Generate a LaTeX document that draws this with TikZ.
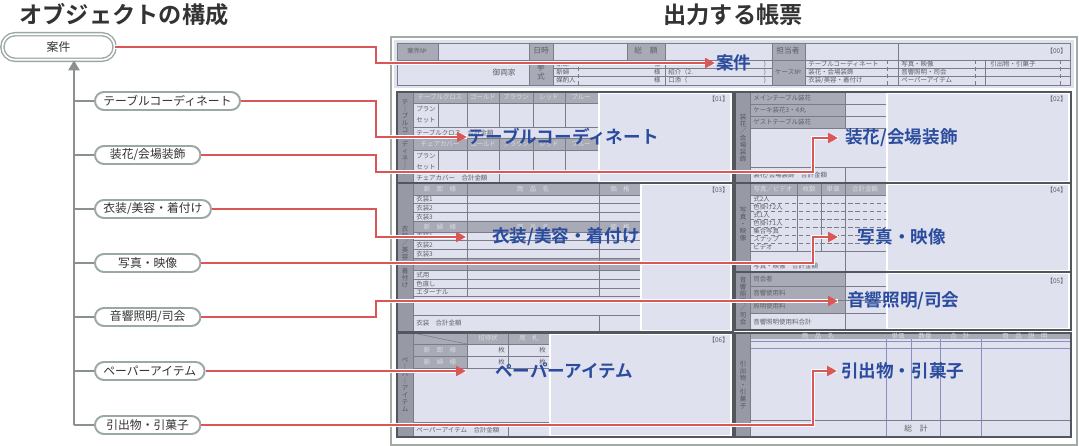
\documentclass[tikz,border=0pt]{standalone}
\usepackage{fontspec}
\setmainfont{Noto Sans CJK JP}[BoldFont={Noto Sans CJK JP Bold}]
\usetikzlibrary{positioning}
\usetikzlibrary{arrows.meta}

\definecolor{itemline}{HTML}{9BA8A6}
\definecolor{treegray}{HTML}{8C908F}
\definecolor{linkred}{HTML}{DA5757}
\definecolor{lblblue}{HTML}{2B4C9E}
\definecolor{textdark}{HTML}{333333}
\definecolor{panelbg}{HTML}{DFE2EE}
\definecolor{cellgray}{HTML}{A8AAB5}
\definecolor{colgray}{HTML}{979AA5}
\definecolor{darkline}{HTML}{54565E}
\definecolor{ruleline}{HTML}{7A7D88}
\definecolor{formtext}{HTML}{5E6069}
\definecolor{headtext}{HTML}{DADCE4}
\definecolor{frameline}{HTML}{A3ABA9}
\definecolor{blueline}{HTML}{8A8EC4}

\tikzset{
  title/.style={font=\bfseries\fontsize{16.5}{18}\selectfont, text=textdark},
  item/.style={draw=itemline, line width=1.4pt, fill=white, rounded corners=6.4pt,
    minimum height=12.8pt, minimum width=75pt, inner xsep=6pt, inner ysep=0pt,
    font=\fontsize{8.4}{9}\selectfont, text=textdark},
  root/.style={item, double=white, double distance=1.2pt, line width=1pt,
    minimum height=18.2pt, minimum width=79.8pt, rounded corners=9pt},
  tree/.style={draw=treegray, line width=1.4pt},
  link/.style={draw=linkred, line width=1.5pt, -{Triangle[length=7pt,width=7pt]},
    preaction={draw=white, line width=3.4pt, -}},
  lbl/.style={inner sep=0pt, font=\bfseries\fontsize{12.5}{13}\selectfont, text=lblblue},
  rule/.style={draw=ruleline, line width=0.4pt},
  sect/.style={draw=darkline, line width=1pt},
  blank/.style={draw=white, line width=0.9pt},
  ft/.style={inner sep=0pt, font=\fontsize{4.6}{5}\selectfont, text=formtext},
  fl/.style={ft, anchor=west},
  fh/.style={ft, text=headtext},
  vl/.style={ft, align=center, text=darkline}
}

\begin{document}
\begin{tikzpicture}[x=0.025cm, y=-0.025cm]
  \useasboundingbox (0,0) rectangle (1079,446);

  % titles
  \node[title] (ttl1) at (124,15) {オブジェクトの構成};
  \node[title] (ttl2) at (733,15) {出力する帳票};

  % --- form ---
  \draw[frameline, fill=white, line width=0.8pt] (391,37) rectangle (1077,445);

  % header block
  \fill[panelbg] (394,40) rectangle (1074,88);
  \fill[cellgray] (397,43) rectangle (438,60) (529,43) rectangle (553,85)
    (627,43) rectangle (665,60) (772,43) rectangle (805,85);
  \draw[rule] (397,43) rectangle (1070,85);
  \draw[rule] (397,60) -- (1070,60) (553,68) -- (772,68) (553,76) -- (772,76)
    (805,68) -- (1070,68) (805,76) -- (1070,76);
  \draw[rule] (438,43) -- (438,60) (627,43) -- (627,60) (985,60) -- (985,85);
  \foreach \x in {529,553,665,772,805,898}
    \draw[rule] (\x,43) -- (\x,85);
  \foreach \x in {578,887,975,1060}
    \draw[rule, densely dashed] (\x,60) -- (\x,85);
  \node[ft] at (417,51) {案件№};
  \node[ft, font=\fontsize{5.5}{6}\selectfont] at (541,51) {日時};
  \node[ft, font=\fontsize{5.5}{6}\selectfont] at (646,51) {総　額};
  \node[ft, font=\fontsize{5.5}{6}\selectfont] at (788,51) {担当者};
  \node[ft, anchor=east] at (1067,51) {【00】};
  \node[ft, font=\fontsize{5.5}{6}\selectfont, anchor=east] at (516,73) {御両家};
  \node[ft, align=center, font=\fontsize{5.5}{6.2}\selectfont] at (541,72) {挙\\式};
  \node[ft] at (788,72) {ケース№};
  \foreach \t [count=\i] in {新郎,新婦,媒酌人} {
    \node[fl] at (556,56+8*\i) {\t};
    \node[ft] at (657,56+8*\i) {様};
    \node[ft] at (765,56+8*\i) {)};
  }
  \node[fl] at (668,72) {紹介（2.};
  \node[fl] at (668,80) {口添（};
  \node[fl] at (808,64) {テーブルコーディネート};
  \node[fl] at (808,72) {装花・会場装飾};
  \node[fl] at (808,80) {衣装/美容・着付け};
  \node[fl] at (901,64) {写真・映像};
  \node[fl] at (901,72) {音響照明・司会};
  \node[fl] at (901,80) {ペーパーアイテム};
  \node[fl] at (990,64) {引出物・引菓子};

  % [01] table coordinate
  \fill[panelbg] (397,92) rectangle (733,183);
  \fill[colgray] (397,92) rectangle (413,183);
  \fill[cellgray] (413,92) rectangle (598,103) (413,138) rectangle (598,150);
  \draw[rule] (413,103) -- (598,103) (413,127) -- (598,127) (413,138) -- (598,138)
    (413,150) -- (598,150) (413,172) -- (598,172);
  \foreach \x in {467,499,533,565}
    \draw[rule] (\x,92) -- (\x,127) (\x,138) -- (\x,172);
  \draw[rule] (413,92) -- (413,183) (438,103) -- (438,127) (438,150) -- (438,172)
    (598,92) -- (598,183) (499,172) -- (499,183);
  \draw[blank] (599,93) rectangle (731,182);
  \draw[sect] (397,92) rectangle (733,183);
  \node[vl] at (405,137) {テ\\｜\\ブ\\ル\\コ\\｜\\デ\\ィ\\ネ\\｜\\ト};
  \foreach \y/\t in {97/テーブルクロス,144/チェアカバー} {
    \node[fh] at (440,\y) {\t};
    \node[fh] at (483,\y) {ゴールド};
    \node[fh] at (516,\y) {ブラウン};
    \node[fh] at (549,\y) {レッド};
    \node[fh] at (581,\y) {ブルー};
  }
  \foreach \y in {103,150} {
    \node[fl] at (416,\y+6) {プラン};
    \node[fl] at (416,\y+17) {セット};
  }
  \node[fl] at (416,133) {テーブルクロス　合計金額};
  \node[fl] at (416,178) {チェアカバー　合計金額};
  \node[ft, anchor=east] at (729,99) {【01】};

  % [02] flowers
  \fill[panelbg] (735,92) rectangle (1071,183);
  \fill[colgray] (735,92) rectangle (750,183);
  \fill[cellgray] (750,92) rectangle (845,128);
  \draw[rule] (750,104) -- (886,104) (750,116) -- (886,116) (750,128) -- (886,128)
    (750,167) -- (886,167);
  \draw[rule] (750,92) -- (750,183) (845,92) -- (845,128) (886,92) -- (886,183)
    (845,167) -- (845,183);
  \draw[blank] (887,93) rectangle (1069,182);
  \draw[sect] (735,92) rectangle (1071,183);
  \node[vl] at (743,138) {装\\花\\／\\会\\場\\装\\飾};
  \node[fl] at (753,98) {メインテーブル装花};
  \node[fl] at (753,110) {ケーキ装花3・4丸};
  \node[fl] at (753,122) {ゲストテーブル装花};
  \node[fl] at (753,175) {装花/会場装飾　合計金額};
  \node[ft, anchor=east] at (1067,99) {【02】};

  % [03] costume
  \fill[panelbg] (397,183) rectangle (733,332);
  \fill[colgray] (397,183) rectangle (413,332);
  \fill[cellgray] (413,183) rectangle (640,195) (413,221) rectangle (640,232)
    (413,258) rectangle (640,270);
  \foreach \y in {195,203,212,221,232,240,249,258,270,279,288,296,315}
    \draw[rule] (413,\y) -- (640,\y);
  \draw[rule] (413,183) -- (413,332) (467,183) -- (467,296) (599,183) -- (599,296)
    (640,183) -- (640,296) (599,315) -- (599,332) (640,315) -- (640,332);
  \draw[blank] (641,184) rectangle (731,331);
  \draw[sect] (397,183) rectangle (733,332);
  \node[vl] at (405,257) {衣\\装\\／\\美\\容\\・\\着\\付\\け};
  \foreach \y/\t in {189/新　郎　様,227/新　婦　様} {
    \node[fh] at (440,\y) {\t};
    \node[fh] at (533,\y) {商　品　名};
    \node[fh] at (620,\y) {価　格};
  }
  \foreach \y in {199,236} {
    \node[fl] at (416,\y) {衣装1};
    \node[fl] at (416,\y+9) {衣装2};
    \node[fl] at (416,\y+18) {衣装3};
  }
  \node[fl] at (416,275) {式用};
  \node[fl] at (416,284) {色直し};
  \node[fl] at (416,292) {エターナル};
  \node[fl] at (416,323) {衣装　合計金額};
  \node[ft, anchor=east] at (729,190) {【03】};

  % [04] photo
  \fill[panelbg] (735,183) rectangle (1071,272);
  \fill[colgray] (735,183) rectangle (750,272);
  \fill[cellgray] (750,183) rectangle (886,195);
  \draw[rule] (750,195) -- (886,195) (750,251) -- (886,251);
  \foreach \y in {203,211,...,243}
    \draw[rule, densely dashed] (750,\y) -- (886,\y);
  \draw[rule] (750,183) -- (750,272) (797,183) -- (797,251) (821,183) -- (821,251)
    (845,183) -- (845,272) (886,183) -- (886,272);
  \draw[blank] (887,184) rectangle (1069,271);
  \draw[sect] (735,183) rectangle (1071,272);
  \node[vl] at (743,224) {写\\真\\・\\映\\像};
  \node[fh] at (773,189) {写真／ビデオ};
  \node[fh] at (809,189) {枚数};
  \node[fh] at (833,189) {単価};
  \node[fh] at (865,189) {合計金額};
  \foreach \t [count=\i] in {式2人,色掛け2人,式1人,色掛け1人,集合写真,スナップ,ビデオ}
    \node[fl] at (753,191+8*\i) {\t};
  \node[fl] at (753,266) {写真・映像　合計金額};
  \node[ft, anchor=east] at (1067,190) {【04】};

  % [05] sound, light, MC
  \fill[panelbg] (735,272) rectangle (1071,330);
  \fill[colgray] (735,272) rectangle (750,330);
  \fill[cellgray] (750,272) rectangle (845,313);
  \draw[rule] (750,286) -- (886,286) (750,300) -- (886,300) (750,313) -- (886,313);
  \draw[rule] (750,272) -- (750,330) (845,272) -- (845,330) (886,272) -- (886,330);
  \draw[blank] (887,273) rectangle (1069,329);
  \draw[sect] (735,272) rectangle (1071,330);
  \node[vl] at (743,301) {音\\響\\照\\明\\／\\司\\会};
  \node[fl] at (753,279) {司会者};
  \node[fl] at (753,293) {音響使用料};
  \node[fl] at (753,306) {照明使用料};
  \node[fl] at (753,322) {音響照明使用料合計};
  \node[ft, anchor=east] at (1067,281) {【05】};

  % [06] paper items
  \fill[panelbg] (397,333) rectangle (733,437);
  \fill[colgray] (397,333) rectangle (413,437);
  \fill[cellgray] (413,333) rectangle (549,344) (413,344) rectangle (467,368);
  \draw[rule] (413,333) -- (467,344);
  \draw[rule] (413,344) -- (549,344) (413,356) -- (549,356) (413,368) -- (549,368)
    (413,422) -- (549,422);
  \draw[rule] (413,333) -- (413,437) (467,333) -- (467,368) (508,333) -- (508,368)
    (549,333) -- (549,437) (508,422) -- (508,437);
  \draw[blank] (550,334) rectangle (731,436);
  \draw[sect] (397,333) rectangle (733,437);
  \node[vl] at (405,385) {ペ\\｜\\パ\\｜\\ア\\イ\\テ\\ム};
  \node[fh] at (488,338) {招待状};
  \node[fh] at (529,338) {席　札};
  \node[fh] at (440,350) {新　郎　様};
  \node[fh] at (440,362) {新　婦　様};
  \foreach \y in {350,362} {
    \node[ft, anchor=east] at (505,\y) {枚};
    \node[ft, anchor=east] at (546,\y) {枚};
  }
  \node[fl] at (416,430) {ペーパーアイテム　合計金額};
  \node[ft, anchor=east] at (729,340) {【06】};

  % [07] gifts
  \fill[panelbg] (735,333) rectangle (1071,437);
  \fill[colgray] (735,333) rectangle (750,437);
  \fill[cellgray] (750,333) rectangle (1071,339);
  \draw[blueline, line width=0.5pt] (750,341) -- (1071,341) (750,348) -- (1071,348)
    (886,339) -- (886,437) (911,339) -- (911,420) (940,339) -- (940,437)
    (981,339) -- (981,437);
  \draw[rule] (750,333) -- (750,437) (750,420) -- (1071,420);
  \draw[sect] (735,333) rectangle (1071,437);
  \node[vl] at (743,385) {引\\出\\物\\・\\引\\菓\\子};
  \node[fh] at (818,336) {商　品　名};
  \node[fh] at (898,336) {単価};
  \node[fh] at (925,336) {数量};
  \node[fh] at (960,336) {合　計};
  \node[fh] at (1025,336) {商　品　説　明};
  \node[ft, font=\fontsize{5.5}{6}\selectfont] at (916,429) {総　計};

  % --- object tree ---
  \node[root] (n0) at (58.5,47) {案件};
  \foreach \t [count=\i] in {テーブルコーディネート,装花/会場装飾,衣装/美容・着付け,
      写真・映像,音響照明/司会,ペーパーアイテム,引出物・引菓子}
    \node[item, anchor=west] (n\i) at (94,47+54*\i) {\t};
  \coordinate (trunk) at (74,425);
  \draw[tree, -{Triangle[length=7pt,width=8pt]}] (trunk) -- (trunk |- n0.south);
  \foreach \i in {1,...,7}
    \draw[tree] (trunk |- n\i) -- (n\i.west);

  % labels on the form
  \coordinate (t0) at (715,63);
  \coordinate (t1) at (467,137);
  \coordinate (t2) at (838,138);
  \coordinate (t3) at (466,237);
  \coordinate (t4) at (838,237);
  \coordinate (t5) at (838,301);
  \coordinate (t6) at (466,371);
  \coordinate (t7) at (837,371);
  \node[lbl, right=0.7pt of t0] (l0) {案件};
  \node[lbl, right=0.5pt of t1] (l1) {テーブルコーディネート};
  \node[lbl, right=5pt of t2] (l2) {装花/会場装飾};
  \node[lbl, right=18.4pt of t3] (l3) {衣装/美容・着付け};
  \node[lbl, right=14pt of t4] (l4) {写真・映像};
  \node[lbl, right=6.4pt of t5] (l5) {音響照明/司会};
  \node[lbl, right=20.5pt of t6] (l6) {ペーパーアイテム};
  \node[lbl, right=2.8pt of t7] (l7) {引出物・引菓子};

  % connectors
  \draw[link] (n0.east) -| (376,63) -- (t0);
  \draw[link] (n1.east) -| (376,137) -- (t1);
  \draw[link] (n2.east) -| (376,172) -| (813,138) -- (t2);
  \draw[link] (n3.east) -| (376,237) -- (t3);
  \draw[link] (n4.east) -| (813,237) -- (t4);
  \draw[link] (n5.east) -| (376,301) -- (t5);
  \draw[link] (n6.east) -- (t6);
  \draw[link] (n7.east) -| (813,371) -- (t7);
\end{tikzpicture}
\end{document}
